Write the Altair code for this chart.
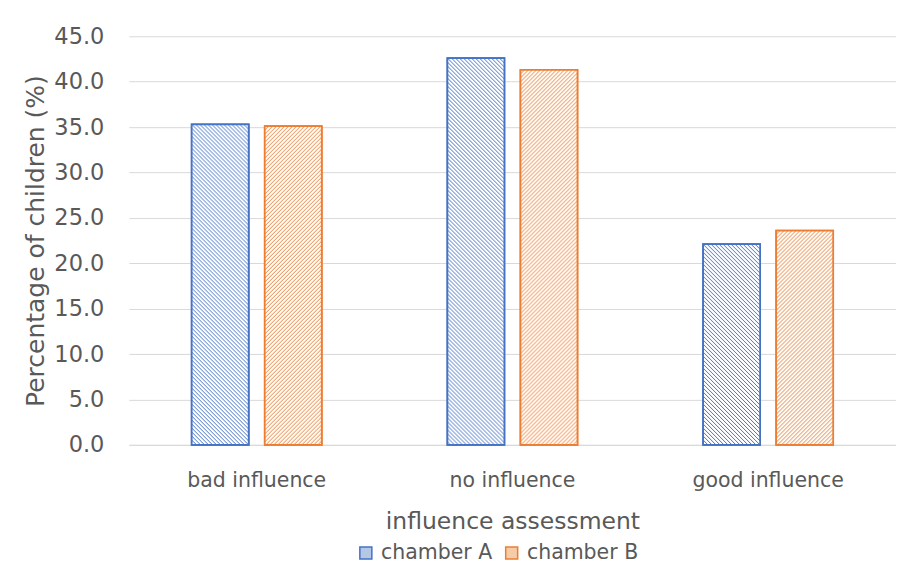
import base64
import altair as alt
import pandas as pd

categories = ["bad influence", "no influence", "good influence"]
series = ["chamber A", "chamber B"]
chamber_a = [35.3, 42.6, 22.1]
chamber_b = [35.1, 41.3, 23.6]
y_ticks = [0, 5, 10, 15, 20, 25, 30, 35, 40, 45]

BLUE = "#4472c4"
ORANGE = "#ed7d31"
BLUE_TINT = "#b4c7e7"
ORANGE_TINT = "#f6cba7"
TEXT = "#595959"
GRID = "#d9d9d9"
FONT = "DejaVu Sans"


def hatch(color, down):
    if down:
        path = "M0,0 L4,4 M3,-1 L5,1 M-1,3 L1,5"
    else:
        path = "M0,4 L4,0 M-1,1 L1,-1 M3,5 L5,3"
    svg = (
        "<svg xmlns='http://www.w3.org/2000/svg' width='100%' height='100%'>"
        "<defs><pattern id='h' width='4' height='4' patternUnits='userSpaceOnUse'>"
        f"<rect width='4' height='4' fill='white'/>"
        f"<path d='{path}' stroke='{color}' stroke-width='1'/>"
        "</pattern></defs>"
        "<rect x='0' y='0' width='100%' height='100%' fill='url(#h)'/></svg>"
    )
    return "data:image/svg+xml;base64," + base64.b64encode(svg.encode()).decode()


HATCH_A = hatch(BLUE, True)
HATCH_B = hatch(ORANGE, False)

rows = []
for c, a, b in zip(categories, chamber_a, chamber_b):
    rows.append({"category": c, "series": series[0], "value": a})
    rows.append({"category": c, "series": series[1], "value": b})
df = pd.DataFrame(rows)

x_enc = alt.X(
    "category:N",
    sort=categories,
    scale=alt.Scale(paddingInner=0, paddingOuter=0),
    axis=alt.Axis(
        title="influence assessment",
        labelAngle=0,
        ticks=False,
        grid=False,
        domainColor=GRID,
        domainWidth=1,
        labelFont=FONT,
        labelFontSize=20.5,
        labelColor=TEXT,
        labelPadding=26,
        titleFont=FONT,
        titleFontSize=23.5,
        titleFontWeight="normal",
        titleColor=TEXT,
        titleY=84,
        titleBaseline="alphabetic",
    ),
)
xoff_enc = alt.XOffset(
    "series:N",
    sort=series,
    scale=alt.Scale(paddingInner=0.22, paddingOuter=0.86),
)
y_enc = alt.Y(
    "value:Q",
    scale=alt.Scale(domain=[0, 45], nice=False),
    axis=alt.Axis(
        title="Percentage of children (%)",
        values=y_ticks,
        format=".1f",
        ticks=False,
        domain=False,
        gridColor=GRID,
        gridWidth=1,
        labelFont=FONT,
        labelFontSize=22.5,
        labelColor=TEXT,
        labelPadding=25,
        titleFont=FONT,
        titleFontSize=25,
        titleFontWeight="normal",
        titleColor=TEXT,
        titleAngle=270,
        titleAlign="center",
        titleBaseline="alphabetic",
        titleX=-85,
        titleY=204.5,
    ),
)

base = alt.Chart(df)

legend = alt.Legend(
    title=None,
    orient="none",
    direction="horizontal",
    legendX=227,
    legendY=507,
    symbolType="square",
    symbolSize=144,
    symbolStrokeWidth=1.5,
    labelFont=FONT,
    labelFontSize=20.5,
    labelColor=TEXT,
    labelOffset=5,
    columnPadding=9,
    padding=0,
)

bars = base.mark_bar(strokeWidth=1.75).encode(
    x=x_enc,
    xOffset=xoff_enc,
    y=y_enc,
    fill=alt.Fill("series:N", sort=series,
                  scale=alt.Scale(domain=series, range=[BLUE_TINT, ORANGE_TINT]),
                  legend=legend),
    stroke=alt.Stroke("series:N", sort=series,
                      scale=alt.Scale(domain=series, range=[BLUE, ORANGE]),
                      legend=legend),
)

hatches = base.mark_image(aspect=False).encode(
    x=x_enc,
    xOffset=xoff_enc,
    y=y_enc,
    url=alt.condition(alt.datum.series == "chamber A", alt.value(HATCH_A), alt.value(HATCH_B)),
)

outlines = base.mark_bar(strokeWidth=1.75, fillOpacity=0).encode(
    x=x_enc,
    xOffset=xoff_enc,
    y=y_enc,
    stroke=alt.condition(alt.datum.series == "chamber A", alt.value(BLUE), alt.value(ORANGE)),
)

chart = (
    alt.layer(bars, hatches, outlines)
    .properties(
        width=768,
        height=409,
        autosize=alt.AutoSizeParams(type="none"),
        padding={"left": 121, "top": 28, "right": 0, "bottom": 119},
        background="white",
    )
    .configure_view(stroke=None)
)

chart.save("out.html", embed_options={"renderer": "svg", "actions": False})
